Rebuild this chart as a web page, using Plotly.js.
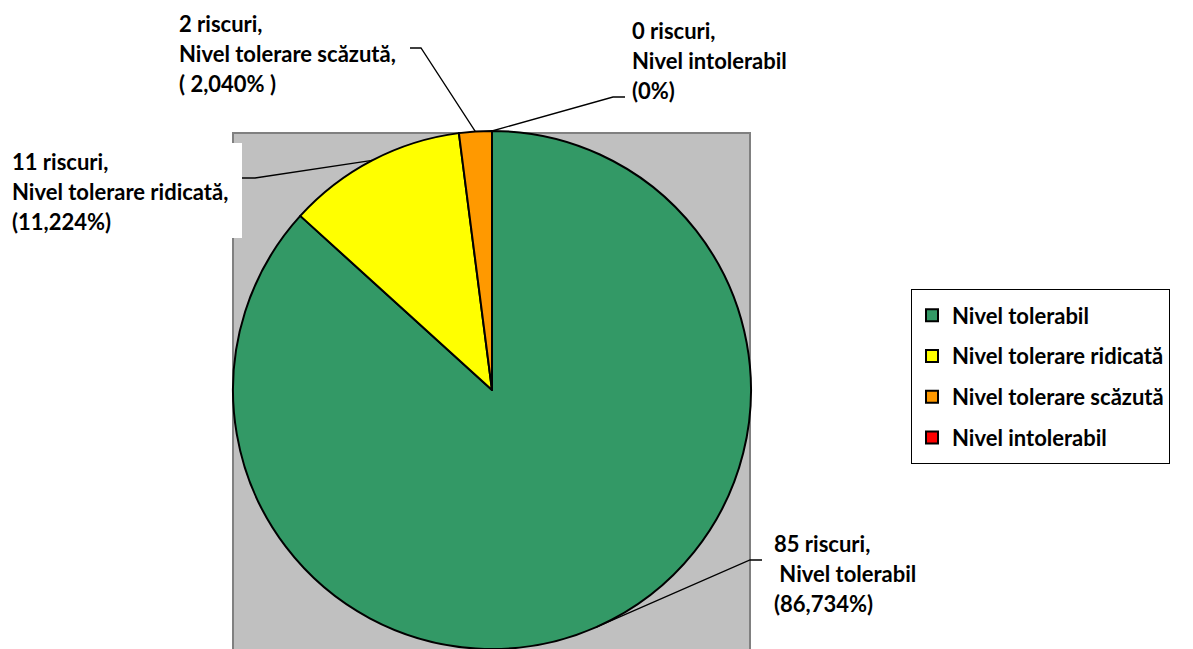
<!DOCTYPE html>
<html>
<head>
<meta charset="utf-8">
<script src="https://cdn.plot.ly/plotly-3.0.1.min.js"></script>
<style>
html,body{margin:0;padding:0;background:#fff;overflow:hidden;}
#chart{width:1193px;height:649px;}
</style>
</head>
<body>
<div id="chart"></div>
<script>
// ---- data ----
const categories = ['Nivel tolerabil', 'Nivel tolerare ridicată', 'Nivel tolerare scăzută', 'Nivel intolerabil'];
const counts = [85, 11, 2, 0];
const percentLabels = ['(86,734%)', '(11,224%)', '( 2,040% )', '(0%)'];
const colors = ['#339966', '#FFFF00', '#FF9900', '#FF0000'];
const countSuffix = ' riscuri,';

// ---- layout helpers ----
const W = 1193, H = 649;
const px = x => x / W;
const py = y => (H - y) / H;
const FONT = 'Lato, "Open Sans", sans-serif';
const TXT = 22;

// pie geometry (pixels)
const pieLeft = 233, pieRight = 751, pieTopPx = 131;
const R = (pieRight - pieLeft) / 2;
const cx = (pieLeft + pieRight) / 2, cy = pieTopPx + R;

// mid angle of each slice (clockwise from 12 o'clock)
const total = counts.reduce((a, b) => a + b, 0);
let acc = 0;
const midAngles = counts.map(v => { const m = (acc + v / 2) / total * 2 * Math.PI; acc += v; return m; });
const edgePt = i => [cx + R * Math.sin(midAngles[i]), cy - R * Math.cos(midAngles[i])];

// label text
const labelText = categories.map((c, i) => {
  const l2 = i === 0 ? '\u00a0' + c : (i === 3 ? c : c + ',');
  return [counts[i] + countSuffix, l2, percentLabels[i]]
    .map(s => '<span style="font-size:' + TXT + 'px">' + s + '</span>').join('<br>');
});

// label placement (left x, middle-line y) and leader elbows, pixels
const labelPos = [[772, 573], [10, 192], [177, 53], [630, 61]];
const elbows = [
  [[750, 560], [762, 560]],
  [[255, 178], [242, 178]],
  [[421, 48], [410, 48]],
  [[613, 97], [625, 97]]
];

const annotations = labelText.map((t, i) => ({
  xref: 'paper', yref: 'paper',
  x: px(labelPos[i][0]), y: py(labelPos[i][1]),
  xanchor: 'left', yanchor: 'middle', align: 'left',
  showarrow: false, text: t,
  font: {family: FONT, size: 23, color: '#000', weight: 'bold'}
}));

const shapes = [
  {type: 'rect', xref: 'paper', yref: 'paper', layer: 'below',
   x0: px(233), x1: px(750), y0: py(700), y1: py(133),
   fillcolor: '#C0C0C0', line: {color: '#808080', width: 2}},
  {type: 'rect', xref: 'paper', yref: 'paper', layer: 'below',
   x0: px(-5), x1: px(242), y0: py(238), y1: py(143),
   fillcolor: '#FFFFFF', line: {width: 0}}
];
elbows.forEach((e, i) => {
  const s = edgePt(i);
  const pts = [s].concat(e);
  const path = pts.map((p, k) => (k ? 'L' : 'M') + px(p[0]).toFixed(5) + ',' + py(p[1]).toFixed(5)).join(' ');
  shapes.push({type: 'path', xref: 'paper', yref: 'paper', layer: 'above', path: path,
    line: {color: '#000', width: 1.3}});
});

const trace = {
  type: 'pie',
  labels: categories.map(c => '<span style="font-size:' + TXT + 'px;baseline-shift:3px">' + c + '</span>'),
  values: counts,
  sort: false,
  direction: 'clockwise',
  rotation: 0,
  textinfo: 'none',
  hoverinfo: 'label+value+percent',
  marker: {colors: colors, line: {color: '#000', width: 2}},
  domain: {x: [px(pieLeft), px(pieRight)], y: [0, (2 * R) / H]},
  showlegend: true
};

const layout = {
  width: W, height: H,
  margin: {l: 0, r: 0, t: 0, b: 0, autoexpand: false},
  paper_bgcolor: '#FFFFFF',
  showlegend: true,
  legend: {
    x: px(911), y: py(289), xanchor: 'left', yanchor: 'top',
    bgcolor: '#FFFFFF', bordercolor: '#000', borderwidth: 1,
    font: {family: FONT, size: 29, color: '#000', weight: 'bold'},
    traceorder: 'normal'
  },
  shapes: shapes,
  annotations: annotations
};

Plotly.newPlot('chart', [trace], layout, {displayModeBar: false, staticPlot: true});
</script>
</body>
</html>
